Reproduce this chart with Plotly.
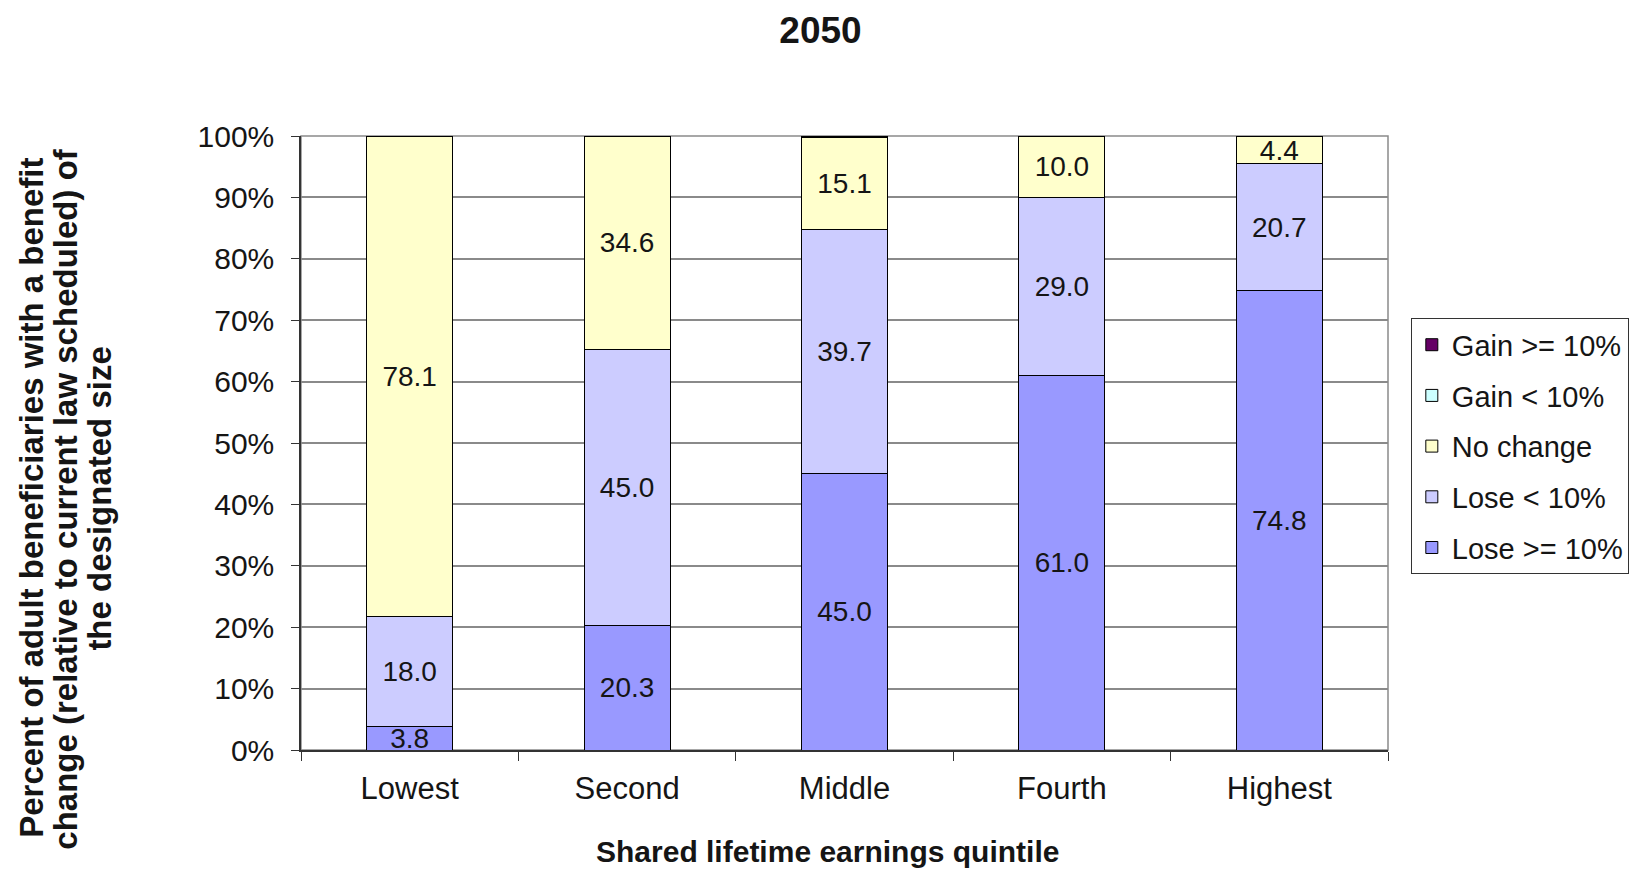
import plotly.graph_objects as go

categories = ["Lowest", "Second", "Middle", "Fourth", "Highest"]
lose_ge10 = [3.8, 20.3, 45.0, 61.0, 74.8]
lose_lt10 = [18.0, 45.0, 39.7, 29.0, 20.7]
no_change = [78.1, 34.6, 15.1, 10.0, 4.4]
gain_lt10 = [0.0, 0.0, 0.0, 0.0, 0.0]
gain_ge10 = [0.1, 0.1, 0.2, 0.0, 0.0]

series = [
    ("Lose >= 10%", lose_ge10, "#9999FF", True, 5),
    ("Lose < 10%", lose_lt10, "#CCCCFF", True, 4),
    ("No change", no_change, "#FFFFCC", True, 3),
    ("Gain < 10%", gain_lt10, "#CCFFFF", False, 2),
    ("Gain >= 10%", gain_ge10, "#660066", False, 1),
]

FONT = "Liberation Sans, Arial, sans-serif"
INK = "#151515"

fig = go.Figure()
for i, (name, vals, color, labels, rank) in enumerate(series):
    fig.add_trace(go.Bar(
        x=categories, y=vals, name=name,
        marker=dict(color=color, line=dict(color="#000000", width=1)),
        text=[f"{v:.1f}" for v in vals] if labels else None,
        textposition="inside" if labels else "none",
        insidetextanchor="middle",
        textangle=0,
        textfont=dict(family=FONT, size=28, color=INK),
        legendgroup=f"g{i}",
        legendrank=rank,
        hoverinfo="skip",
    ))

fig.update_layout(
    barmode="stack",
    bargap=0.605,
    width=1641, height=869,
    margin=dict(l=301, r=251, t=136, b=119),
    paper_bgcolor="white", plot_bgcolor="white",
    font=dict(family=FONT, size=28, color=INK),
    uniformtext=dict(minsize=28, mode="show"),
    title=dict(text="<b>2050</b>", x=0.5, xanchor="center", y=0.965, yanchor="middle",
               font=dict(family=FONT, size=37, color=INK)),
    legend=dict(
        x=1.021, y=0.703, xanchor="left", yanchor="top",
        traceorder="grouped", tracegroupgap=10,
        bordercolor="#333333", borderwidth=1, bgcolor="white",
        font=dict(family=FONT, size=29, color=INK),
    ),
    showlegend=True,
)

fig.update_xaxes(
    type="category", tickson="boundaries", ticks="outside", ticklen=9,
    tickcolor="#333333", showline=True, linecolor="#333333", linewidth=1.5,
    tickfont=dict(family=FONT, size=31, color=INK),
    ticklabelstandoff=10,
    showgrid=False,
)
fig.update_yaxes(
    range=[0, 100], dtick=10, ticksuffix="%", ticks="outside", ticklen=8,
    tickcolor="#333333", showline=True, linecolor="#333333", linewidth=1.5,
    gridcolor="#8a8a8a", gridwidth=1.5,
    tickfont=dict(family=FONT, size=30, color=INK),
    ticklabelstandoff=11,
    zeroline=False,
)

# plot area border
fig.add_shape(type="rect", xref="paper", yref="paper", x0=0, x1=1, y0=0, y1=1,
              line=dict(color="#8a8a8a", width=1.5), layer="below")

fig.add_annotation(
    text="<b>Shared lifetime earnings quintile</b>", xref="paper", yref="paper",
    x=0.484, y=-0.166, xanchor="center", yanchor="middle", showarrow=False,
    font=dict(family=FONT, size=30, color=INK),
)

ytitle_lines = [
    "Percent of adult beneficiaries with a benefit",
    "change (relative to current law scheduled) of",
    "the designated size",
]
ytitle_x = [-0.2479, -0.2167, -0.1855]
for line, xp in zip(ytitle_lines, ytitle_x):
    fig.add_annotation(
        text=f"<b>{line}</b>", xref="paper", yref="paper", x=xp, y=0.41,
        xanchor="center", yanchor="middle", textangle=-90, showarrow=False,
        font=dict(family=FONT, size=33, color=INK),
    )

fig.write_html("out.html")
